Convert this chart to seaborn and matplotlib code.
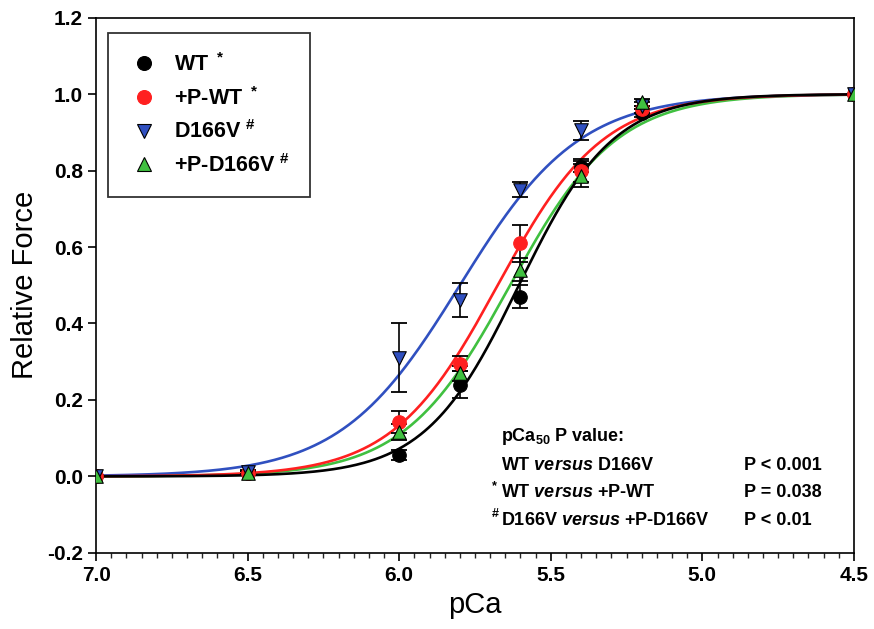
import numpy as np
import pandas as pd
import matplotlib
matplotlib.use('Agg')
import matplotlib.pyplot as plt
from matplotlib.lines import Line2D
from matplotlib.ticker import MultipleLocator, FormatStrFormatter
import seaborn as sns

# pCa steps of the force measurements
pca = [7.0, 6.5, 6.0, 5.8, 5.6, 5.4, 5.2, 4.5]

groups = ['WT', '+P-WT', 'D166V', '+P-D166V']
labels = [r'WT $^*$', r'+P-WT $^*$', r'D166V $^\#$', r'+P-D166V $^\#$']

force_wt = [0.0, 0.01, 0.056, 0.24, 0.47, 0.81, 0.95, 1.0]
sem_wt = [0.0, 0.005, 0.012, 0.035, 0.03, 0.015, 0.01, 0.0]
force_pwt = [0.0, 0.008, 0.142, 0.295, 0.61, 0.80, 0.96, 1.0]
sem_pwt = [0.0, 0.005, 0.028, 0.02, 0.048, 0.03, 0.01, 0.0]
force_d166v = [0.0, 0.012, 0.31, 0.462, 0.75, 0.905, 0.97, 1.0]
sem_d166v = [0.0, 0.005, 0.09, 0.044, 0.02, 0.025, 0.01, 0.0]
force_pd166v = [0.0, 0.01, 0.116, 0.27, 0.54, 0.787, 0.978, 1.0]
sem_pd166v = [0.0, 0.005, 0.02, 0.02, 0.03, 0.03, 0.01, 0.0]

# Hill fit parameters
pca50 = [5.605, 5.675, 5.80, 5.634]
hill_n = [2.8, 2.5, 2.2, 2.48]

colors = ['#000000', '#ff2020', '#3050c0', '#40c040']
markers = ['o', 'o', 'v', '^']
edges = ['#000000', '#ff2020', '#000000', '#000000']

forces = [force_wt, force_pwt, force_d166v, force_pd166v]
sems = [sem_wt, sem_pwt, sem_d166v, sem_pd166v]

rows = []
for g, f, s in zip(groups, forces, sems):
    for x, y, e in zip(pca, f, s):
        rows.append({'pCa': x, 'force': y, 'sem': e, 'group': g})
df = pd.DataFrame(rows)

x_fit = np.linspace(4.5, 7.0, 400)
fit_rows = []
for g, p50, n in zip(groups, pca50, hill_n):
    y_fit = 1.0 / (1.0 + 10 ** (n * (x_fit - p50)))
    fit_rows.append(pd.DataFrame({'pCa': x_fit, 'force': y_fit, 'group': g}))
df_fit = pd.concat(fit_rows, ignore_index=True)

sns.set_style('white')
plt.rcParams['font.family'] = ['Liberation Sans', 'DejaVu Sans']
plt.rcParams['text.color'] = 'black'
plt.rcParams['axes.labelcolor'] = 'black'
plt.rcParams['mathtext.fontset'] = 'custom'
plt.rcParams['mathtext.rm'] = 'Liberation Sans:bold'
plt.rcParams['mathtext.bf'] = 'Liberation Sans:bold'
plt.rcParams['mathtext.it'] = 'Liberation Sans:italic:bold'
plt.rcParams['mathtext.default'] = 'rm'

fig = plt.figure(figsize=(8.74, 6.29), dpi=100)
ax = fig.add_axes([0.110, 0.121, 0.867, 0.851])

palette = dict(zip(groups, colors))
sns.lineplot(data=df_fit, x='pCa', y='force', hue='group', palette=palette,
             hue_order=groups[::-1], linewidth=1.9, legend=False, ax=ax, zorder=2)

for g in groups:
    sub = df[df['group'] == g]
    ax.errorbar(sub['pCa'], sub['force'], yerr=sub['sem'], fmt='none',
                ecolor='black', elinewidth=1.2, capsize=6, capthick=1.3, zorder=3)

for g, c, m, e in zip(groups, colors, markers, edges):
    sub = df[df['group'] == g]
    sns.scatterplot(data=sub, x='pCa', y='force', color=c, marker=m, s=95,
                    edgecolor=e, linewidth=0.8, ax=ax, zorder=4, legend=False)

ax.set_xlim(7.0, 4.5)
ax.set_ylim(-0.2, 1.2)
ax.xaxis.set_major_locator(MultipleLocator(0.5))
ax.xaxis.set_minor_locator(MultipleLocator(0.05))
ax.yaxis.set_major_locator(MultipleLocator(0.2))
ax.xaxis.set_major_formatter(FormatStrFormatter('%.1f'))
ax.yaxis.set_major_formatter(FormatStrFormatter('%.1f'))
ax.tick_params(axis='both', which='major', direction='out', length=6, width=1.2,
               labelsize=15, colors='black', bottom=True, left=True)
ax.tick_params(axis='x', which='minor', direction='out', length=3.5, width=1.0,
               bottom=True)
for lab in ax.get_xticklabels() + ax.get_yticklabels():
    lab.set_fontweight('bold')
for sp in ax.spines.values():
    sp.set_color('black')
    sp.set_linewidth(1.2)

ax.set_xlabel('pCa', fontsize=21, labelpad=4)
ax.set_ylabel('Relative Force', fontsize=21, labelpad=6)

handles = [Line2D([], [], linestyle='none', marker=m, markersize=10,
                  markerfacecolor=c, markeredgecolor=e, markeredgewidth=0.8)
           for c, m, e in zip(colors, markers, edges)]
leg = ax.legend(handles, labels, loc='upper left', bbox_to_anchor=(0.016, 0.972),
                prop={'weight': 'bold', 'size': 15.5}, frameon=True, fancybox=False,
                edgecolor='black', borderpad=0.95, labelspacing=0.5,
                handlelength=1.4, handletextpad=0.7, borderaxespad=0)
leg.get_frame().set_linewidth(1.3)

fs = 13
ax.text(0.534, 0.217, r'pCa$_{50}$ P value:', transform=ax.transAxes,
        fontsize=fs, fontweight='bold', va='center')
comparisons = [r'WT $\mathit{versus}$ D166V',
               r'WT $\mathit{versus}$ +P-WT',
               r'D166V $\mathit{versus}$ +P-D166V']
marks = ['', '*', '#']
pvals = ['P < 0.001', 'P = 0.038', 'P < 0.01']
ys = [0.164, 0.112, 0.060]
for comp, mk, pv, y in zip(comparisons, marks, pvals, ys):
    ax.text(0.534, y, comp, transform=ax.transAxes, fontsize=fs,
            fontweight='bold', va='center')
    if mk:
        ax.text(0.522, y + 0.012, mk, transform=ax.transAxes, fontsize=9,
                fontweight='bold', va='center')
    ax.text(0.855, y, pv, transform=ax.transAxes, fontsize=fs,
            fontweight='bold', va='center')

fig.savefig('out.png', dpi=100)
